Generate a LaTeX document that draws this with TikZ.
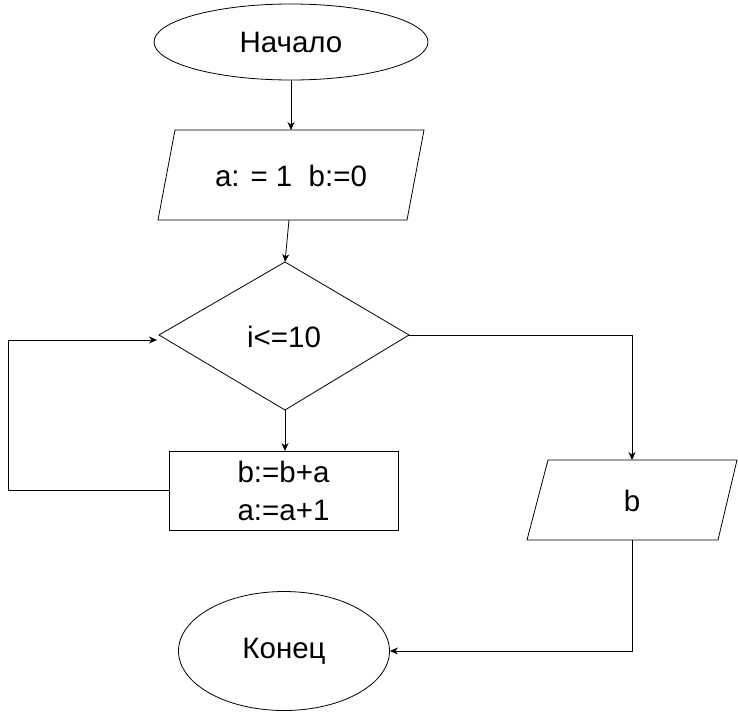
\documentclass[tikz,border=0pt]{standalone}
\usepackage{fontspec}
\setmainfont{Liberation Sans}
\usetikzlibrary{shapes.geometric,arrows.meta}
\begin{document}
\begin{tikzpicture}[x=1pt,y=-1pt,
  every node/.style={font=\fontsize{29.5}{38}\selectfont, inner sep=0pt},
  outline/.style={draw=black, line width=0.8pt},
  terminal/.style={outline, ellipse},
  conn/.style={draw=black, line width=0.8pt},
  arr/.style={conn, -{Stealth[length=8pt,width=7pt]}}]
\useasboundingbox (0,0) rectangle (738,712);
% start
\node[terminal, minimum width=274pt, minimum height=76pt] (start) at (291,42) {Начало};
% input parallelogram
\coordinate (p1tl) at (175,130);
\coordinate (p1tr) at (424,130);
\coordinate (p1br) at (407,220);
\coordinate (p1bl) at (158,220);
\draw[outline] (p1tl) -- (p1tr) -- (p1br) -- (p1bl) -- cycle;
\node (p1) at (291,176) {a: = 1\ \ b:=0};
\coordinate (p1in) at (291,130);
\coordinate (p1out) at (289,220);
% diamond
\coordinate (dt) at (285,262);
\coordinate (dr) at (409,335);
\coordinate (db) at (285,410);
\coordinate (dl) at (159,335);
\draw[outline] (dt) -- (dr) -- (db) -- (dl) -- cycle;
\node (cond) at (284,337) {i<=10};
% process
\node[outline, rectangle, minimum width=229pt, minimum height=79pt, align=center] (proc) at (283.5,490.5) {b:=b+a\\a:=a+1};
\coordinate (procin) at (285,451);
% output parallelogram
\coordinate (p2tl) at (548,460);
\coordinate (p2tr) at (737,460);
\coordinate (p2br) at (718,540);
\coordinate (p2bl) at (527,540);
\draw[outline] (p2tl) -- (p2tr) -- (p2br) -- (p2bl) -- cycle;
\node (p2) at (632,501) {b};
\coordinate (p2in) at (632,460);
\coordinate (p2out) at (632,540);
% end
\node[terminal, minimum width=211pt, minimum height=119pt] (finish) at (284,651) {Конец};
% loop coordinates
\coordinate (loopA) at (8,490);
\coordinate (loopB) at (8,340);
\coordinate (loopEnd) at (157,340);
\coordinate (rightA) at (632,335);
\coordinate (downA) at (632,651);
% connectors
\draw[arr] (start.south) -- (p1in);
\draw[arr] (p1out) -- (dt);
\draw[arr] (db) -- (procin);
\draw[arr] (proc.west |- loopA) -- (loopA) -- (loopB) -- (loopEnd);
\draw[arr] (dr) -- (rightA) -- (p2in);
\draw[arr] (p2out) -- (downA) -- (finish.east);
\end{tikzpicture}
\end{document}
